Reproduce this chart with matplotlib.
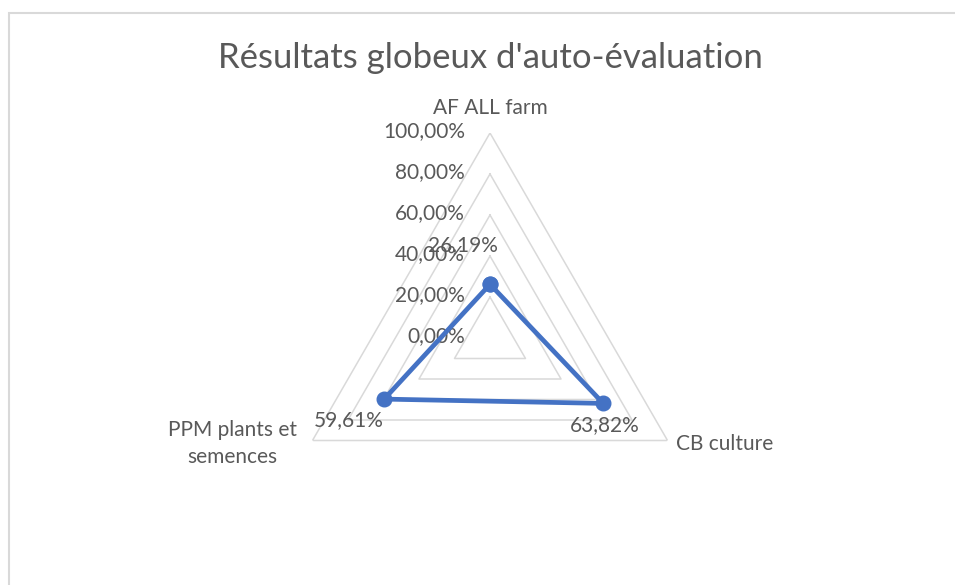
import numpy as np
import matplotlib.pyplot as plt
from matplotlib.patches import Rectangle

# données du graphique
categories = ["AF ALL farm", "CB culture", "PPM plants et\nsemences"]
valeurs = [0.2619, 0.6382, 0.5961]
etiquettes = ["26,19%", "63,82%", "59,61%"]
niveaux = [0.0, 0.2, 0.4, 0.6, 0.8, 1.0]
niveaux_txt = ["0,00%", "20,00%", "40,00%", "60,00%", "80,00%", "100,00%"]

plt.rcParams['font.family'] = ['Lato', 'DejaVu Sans']
gris_txt = "#595959"
gris_grille = "#d9d9d9"
bleu = "#4472c4"

W, H = 955, 585
fig = plt.figure(figsize=(W / 100, H / 100), dpi=100)

# cadre (seuls le haut et la gauche sont visibles)
fig.patches.append(Rectangle((9 / W, -0.1), 1.2, (H - 13) / H + 0.1,
                             transform=fig.transFigure, fill=False,
                             edgecolor=gris_grille, linewidth=1.5))

cx, cy, R = 490, 338, 205
ax = fig.add_axes([(cx - R) / W, (H - cy - R) / H, 2 * R / W, 2 * R / H],
                  projection="polar")
ax.set_theta_offset(np.pi / 2)
ax.set_theta_direction(-1)
ax.set_ylim(0, 1)
ax.grid(False)
ax.spines["polar"].set_visible(False)
ax.set_xticks([])
ax.set_yticks([])
ax.patch.set_visible(False)

angles = np.linspace(0, 2 * np.pi, len(categories), endpoint=False)
ang_ferme = np.append(angles, angles[0])

# grille triangulaire
for niv in niveaux[1:]:
    ax.plot(ang_ferme, [niv] * len(ang_ferme), color=gris_grille, lw=1.1,
            zorder=1)

# étiquettes de l'axe des valeurs
for niv, txt in zip(niveaux, niveaux_txt):
    ax.annotate(txt, (0, niv), xytext=(-25, 2), textcoords="offset pixels",
                ha="right", va="center", fontsize=15, color=gris_txt)

# série
ax.plot(ang_ferme, np.append(valeurs, valeurs[0]), color=bleu, lw=3.4,
        marker="o", markersize=10.5, zorder=3)

# étiquettes de données
decal = [(-27, 39), (1, -22), (-35, -21)]
for a, v, t, d in zip(angles, valeurs, etiquettes, decal):
    ax.annotate(t, (a, v), xytext=d, textcoords="offset pixels",
                ha="center", va="center", fontsize=15, color=gris_txt)

# noms des catégories
cat_pos = [((0, 1.0), (0, 25), "center"),
           ((angles[1], 1.0), (8, -3), "left"),
           ((angles[2], 1.0), (-80, -3), "center")]
for nom, (xy, d, ha) in zip(categories, cat_pos):
    ax.annotate(nom, xy, xytext=d, textcoords="offset pixels",
                ha=ha, va="center", fontsize=15, color=gris_txt,
                linespacing=1.45)

fig.text(cx / W, 1 - 58 / H, "Résultats globeux d'auto-évaluation",
         ha="center", va="center", fontsize=25, color=gris_txt)

fig.savefig("out.png", dpi=100)
